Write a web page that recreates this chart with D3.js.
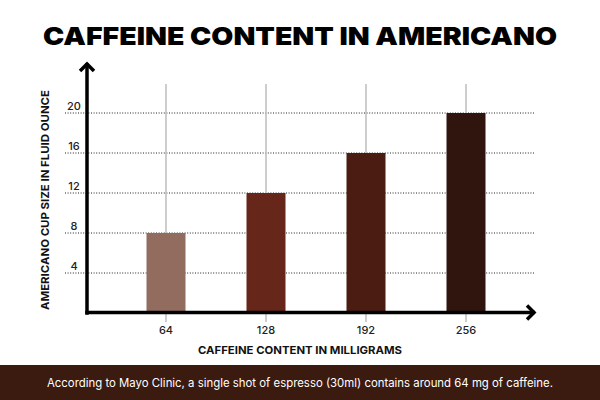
<!DOCTYPE html>
<html><head><meta charset="utf-8">
<script src="https://cdn.jsdelivr.net/npm/d3@7"></script>
<style>body{margin:0;background:#fff}svg{display:block}</style>
</head><body>
<script>
const categories = ["64", "128", "192", "256"];
const values = [8, 12, 16, 20];
const yTicks = [4, 8, 12, 16, 20];
const barColors = ["#936c60", "#662619", "#4b1c12", "#30150e"];
const title = "CAFFEINE CONTENT IN AMERICANO";
const xTitle = "CAFFEINE CONTENT IN MILLIGRAMS";
const yTitle = "AMERICANO CUP SIZE IN FLUID OUNCE";
const footer = "According to Mayo Clinic, a single shot of espresso (30ml) contains around 64 mg of caffeine.";

const W = 600, H = 400;
const svg = d3.select("body").append("svg").attr("width", W).attr("height", H);
const font = "Inter, 'Noto Sans', sans-serif";

const x = d3.scaleBand().domain(categories).range([116, 516]).paddingInner(0.61).paddingOuter(0.305);
const y = d3.scaleLinear().domain([0, 20]).range([313, 113]);

// title
svg.append("text").attr("x", 300).attr("y", 44.5).attr("text-anchor", "middle")
  .attr("font-family", font).attr("font-weight", 900).attr("font-size", 25)
  .attr("textLength", 514).attr("lengthAdjust", "spacingAndGlyphs")
  .attr("fill", "#000").text(title);

// gridlines
svg.append("g").selectAll("line").data(yTicks).join("line")
  .attr("x1", 65).attr("x2", 534).attr("y1", d => y(d)).attr("y2", d => y(d))
  .attr("stroke", "#222").attr("stroke-width", 1).attr("stroke-dasharray", "1,1.6");

// tick labels y
svg.append("g").selectAll("text").data(yTicks).join("text")
  .attr("x", 74).attr("y", d => y(d) - 3).attr("text-anchor", "middle")
  .attr("font-family", font).attr("font-weight", 500).attr("font-size", 11).attr("fill", "#222").text(d => d);

// vertical gray lines
svg.append("g").selectAll("line").data(categories).join("line")
  .attr("x1", d => x(d) + x.bandwidth() / 2).attr("x2", d => x(d) + x.bandwidth() / 2)
  .attr("y1", 84).attr("y2", 322).attr("stroke", "#bdbdbd").attr("stroke-width", 1.5);

// bars
svg.append("g").selectAll("rect").data(values).join("rect")
  .attr("x", (d, i) => x(categories[i])).attr("width", x.bandwidth())
  .attr("y", d => y(d)).attr("height", d => y(0) - y(d))
  .attr("fill", (d, i) => barColors[i]);

// axes
const ax = svg.append("g").attr("stroke", "#000").attr("stroke-width", 3.5).attr("fill", "none")
  .attr("stroke-linecap", "square");
ax.append("line").attr("x1", 87).attr("x2", 87).attr("y1", 65).attr("y2", 313);
ax.append("line").attr("x1", 87).attr("x2", 533).attr("y1", 312.5).attr("y2", 312.5);
ax.append("path").attr("d", "M80,71 L87,64 L94,71").attr("stroke-linejoin", "miter").attr("stroke-linecap", "butt");
ax.append("path").attr("d", "M527,305.5 L534,312.5 L527,319.5").attr("stroke-linejoin", "miter").attr("stroke-linecap", "butt");

// x tick labels
svg.append("g").selectAll("text").data(categories).join("text")
  .attr("x", d => x(d) + x.bandwidth() / 2).attr("y", 334).attr("text-anchor", "middle")
  .attr("font-family", font).attr("font-weight", 500).attr("font-size", 11).attr("fill", "#222").text(d => d);

// axis titles
svg.append("text").attr("x", 300).attr("y", 354).attr("text-anchor", "middle")
  .attr("font-family", font).attr("font-weight", 700).attr("font-size", 11)
  .attr("textLength", 204).attr("lengthAdjust", "spacingAndGlyphs")
  .attr("fill", "#111").text(xTitle);
svg.append("text").attr("transform", "translate(49,200) rotate(-90)").attr("text-anchor", "middle")
  .attr("font-family", font).attr("font-weight", 700).attr("font-size", 11)
  .attr("textLength", 220).attr("lengthAdjust", "spacingAndGlyphs")
  .attr("fill", "#111").text(yTitle);

// footer
svg.append("rect").attr("x", 0).attr("y", 365).attr("width", W).attr("height", 35).attr("fill", "#3b1a10");
svg.append("text").attr("x", 300).attr("y", 387).attr("text-anchor", "middle")
  .attr("font-family", font).attr("font-size", 11.5)
  .attr("textLength", 506).attr("lengthAdjust", "spacingAndGlyphs")
  .attr("fill", "#fff").text(footer);
</script>
</body></html>
